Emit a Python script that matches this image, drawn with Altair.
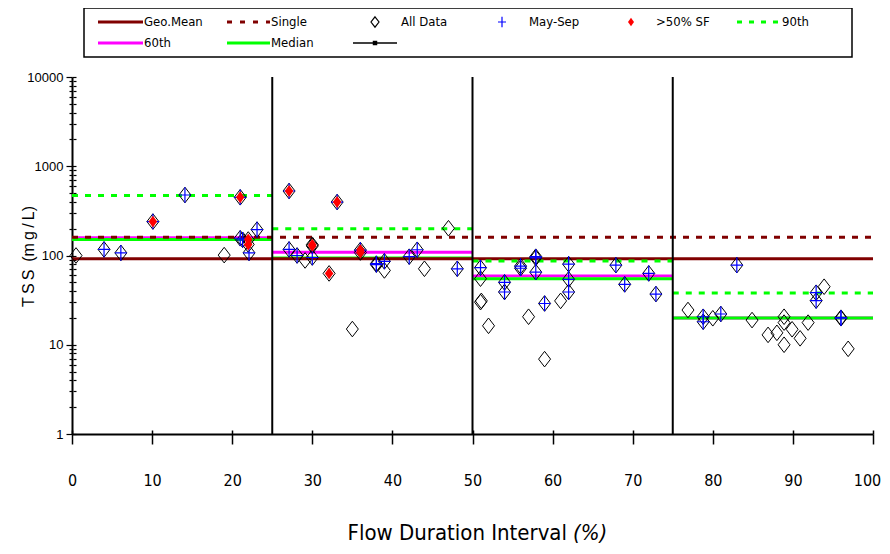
import altair as alt
import pandas as pd

# ---------------- data ----------------
# All Data (open diamonds)
all_x = [0.5, 4.0, 6.1, 10.1, 14.1, 19.0, 21.0, 21.0, 21.3, 22.0, 22.0, 22.1, 23.1,
         27.1, 27.1, 28.1, 29.1, 30.0, 30.0, 30.0, 32.1, 33.1, 35.0, 36.0, 36.0, 38.0,
         38.0, 39.0, 39.0, 42.1, 43.1, 44.0, 47.0, 48.1,
         51.0, 51.0, 51.0, 51.1, 52.0, 54.0, 54.0, 56.0, 56.0, 57.0, 57.9, 57.9, 57.9,
         59.0, 59.0, 61.0, 62.0, 62.0, 62.0, 67.9, 69.0, 72.0, 72.9,
         76.9, 78.8, 78.8, 80.0, 81.0, 83.0, 84.9, 86.9, 88.0, 88.9, 88.9, 88.9, 89.9,
         90.9, 91.9, 92.9, 92.9, 93.9, 96.0, 96.0, 96.9]
all_y = [100, 117, 107, 240, 476, 101, 449, 156, 150, 151, 133, 107, 195,
         528, 117, 100, 88, 128, 132, 95, 63, 397, 15, 115, 108, 81,
         79, 86, 68, 97, 116, 71, 202, 71,
         73, 55, 30, 31, 16.3, 50, 39, 76, 72, 20.6, 94, 97, 65,
         29, 6.9, 31, 80, 54, 39, 78, 47.5, 63, 37,
         24.5, 20.6, 18.1, 19.8, 22.1, 78, 18.9, 12.9, 13.6, 20.6, 17.7, 10.0, 14.9,
         11.8, 17.7, 38.3, 31.2, 44.7, 20.1, 19.8, 9.0]

# May-Sep (blue plus)
may_x = [4.0, 6.1, 10.1, 14.1, 21.0, 21.0, 21.3, 22.1, 23.1,
         27.1, 27.1, 28.1, 30.0, 33.1, 36.0, 38.0, 38.0, 39.0, 42.1, 43.1, 48.1,
         51.0, 54.0, 54.0, 56.0, 56.0, 57.9, 57.9, 57.9, 59.0, 62.0, 62.0, 62.0, 67.9,
         69.0, 72.0, 72.9,
         78.8, 78.8, 81.0, 83.0, 92.9, 92.9, 96.0, 96.0]
may_y = [117, 107, 240, 476, 449, 156, 150, 107, 195,
         528, 117, 100, 95, 397, 115, 81, 79, 86, 97, 116, 71,
         73, 50, 39, 76, 72, 94, 97, 65, 29, 80, 54, 39, 78,
         47.5, 63, 37,
         20.6, 18.1, 22.1, 78, 38.3, 31.2, 20.1, 19.8]

# >50% SF (red diamonds)
sf_x = [10.1, 21.0, 22.0, 22.0, 27.1, 30.0, 30.0, 32.1, 33.1, 36.0, 36.0]
sf_y = [240, 449, 151, 133, 528, 128, 132, 63, 397, 115, 108]

# Flow-zone statistics
zone_start = [0, 25, 50, 75]
zone_end = [25, 50, 75, 100]
p90 = [470, 199, 87, 38]
p60 = [158, 109, 59, 20]
median = [151, 94, 55, 20]
geo_mean = 92
single = 160
dividers = [25, 50, 75]

x_ticks = list(range(0, 101, 10))
y_decades = [1, 10, 100, 1000, 10000]
y_minor = [m * 10 ** e for e in range(4) for m in range(1, 10)] + [10000]

legend_labels = ["Geo.Mean", "Single", "All Data", "May-Sep", ">50% SF", "90th", "60th", "Median"]

# ---------------- styling ----------------
NARROW = "DejaVu Sans Condensed, Liberation Sans Narrow, Liberation Sans, sans-serif"
ARIAL = "Liberation Sans, Arial, sans-serif"
DARKRED = "#800000"
GREEN = "#00FF00"
MAGENTA = "#FF00FF"
DIAMOND = "M0,-1.3L1,0L0,1.3L-1,0Z"
PLUS = "M-1,0L1,0M0,-1.3L0,1.3"
RED_DIAMOND = "M0,-1.4L1,0L0,1.4L-1,0Z"
W, H = 801, 357

XS = alt.Scale(domain=[0, 100], nice=False, zero=False)
YS = alt.Scale(type="log", domain=[1, 10000], nice=False)
DEC = "indexof([1,10,100,1000,10000], datum.value) >= 0"

x_main_axis = alt.Axis(values=x_ticks, format="d", orient="bottom", title=None, grid=False,
                       domainColor="black", domainWidth=2, tickColor="black",
                       tickWidth=1.5, tickSize=10, labelFont=NARROW, labelFontSize=16,
                       labelColor="black", labelPadding=28, labelFlush=False,
                       labelOverlap=False,
                       labelOffset={"condition": {"test": "datum.value == 100", "value": -6},
                                    "value": 0})
x_inner_axis = alt.Axis(values=x_ticks, orient="bottom", offset=-4, tickSize=4,
                        domain=False, labels=False, title=None, grid=False,
                        tickColor="black", tickWidth=1.5)
y_main_axis = alt.Axis(values=y_minor, format="d", labelExpr=f"{DEC} ? datum.label : ''",
                       orient="left", grid=False, domainColor="black", domainWidth=2,
                       tickColor="black", tickWidth=1.2,
                       tickSize={"condition": {"test": DEC, "value": 6}, "value": 3},
                       labelFont=ARIAL, labelFontSize=13, labelColor="black",
                       labelPadding=3, labelOverlap=False,
                       title="T\u2009S\u2009S\u2009 (m\u2009g\u2009/\u2009L)",
                       titleFont=ARIAL, titleFontSize=16, titleFontWeight="normal",
                       titleColor="black", titleX=-44, titleY=179, titleAngle=-90,
                       titleBaseline="middle", titleAlign="center")
y_inner_axis = alt.Axis(values=y_minor, orient="left", offset=-4, grid=False,
                        domain=False, labels=False, title=None, tickColor="black",
                        tickWidth=1.2,
                        tickSize={"condition": {"test": DEC, "value": 4}, "value": 3})

zones = pd.DataFrame({"x0": zone_start, "x1": zone_end, "p90": p90, "p60": p60,
                      "median": median})
full = pd.DataFrame({"x0": [0], "x1": [100], "geo": [geo_mean], "single": [single]})


def zone_rule(df, field, color, dash=None, width=3):
    kw = dict(color=color, strokeWidth=width)
    if dash:
        kw["strokeDash"] = dash
    return alt.Chart(df).mark_rule(**kw).encode(
        x=alt.X("x0:Q", scale=XS, axis=None),
        x2="x1:Q",
        y=alt.Y(f"{field}:Q", scale=YS, axis=None),
    )


lines = [
    zone_rule(zones, "p60", MAGENTA),
    zone_rule(zones, "median", GREEN),
    zone_rule(full, "geo", DARKRED),
    zone_rule(full, "single", DARKRED, dash=[6, 7]),
    zone_rule(zones, "p90", GREEN, dash=[6, 7]),
]

div_df = pd.DataFrame({"x": dividers, "y0": [1] * 3, "y1": [10000] * 3})
div_layer = alt.Chart(div_df).mark_rule(color="black", strokeWidth=2).encode(
    x=alt.X("x:Q", scale=XS, axis=x_inner_axis),
    y=alt.Y("y0:Q", scale=YS, axis=y_inner_axis),
    y2="y1:Q",
)

all_df = pd.DataFrame({"x": all_x, "y": all_y})
may_df = pd.DataFrame({"x": may_x, "y": may_y})
sf_df = pd.DataFrame({"x": sf_x, "y": sf_y})

all_layer = alt.Chart(all_df).mark_point(
    shape=DIAMOND, filled=False, color="black", size=144, strokeWidth=1, opacity=1
).encode(x=alt.X("x:Q", scale=XS, axis=x_main_axis),
         y=alt.Y("y:Q", scale=YS, axis=y_main_axis))
may_layer = alt.Chart(may_df).mark_point(
    shape=PLUS, filled=False, color="blue", size=144, strokeWidth=1.2, opacity=1
).encode(x=alt.X("x:Q", scale=XS, axis=None), y=alt.Y("y:Q", scale=YS, axis=None))
sf_layer = alt.Chart(sf_df).mark_point(
    shape=RED_DIAMOND, filled=True, color="red", size=72, opacity=1, strokeWidth=0
).encode(x=alt.X("x:Q", scale=XS, axis=None), y=alt.Y("y:Q", scale=YS, axis=None))

# ---------------- legend / decoration overlay (page-pixel layout scale) ----------------
LX = alt.Scale(domain=[72, 873], nice=False, zero=False)
LY = alt.Scale(domain=[77, 434], nice=False, zero=False, reverse=True)


def ox(f):
    return alt.X(f, scale=LX, axis=None)


def oy(f):
    return alt.Y(f, scale=LY, axis=None)


box = alt.Chart(pd.DataFrame({"a": [84], "b": [852], "c": [8], "d": [57]})).mark_rect(
    fillOpacity=0, stroke="black", strokeWidth=1.5
).encode(x=ox("a:Q"), x2="b:Q", y=oy("c:Q"), y2="d:Q")


def leg_line(x0, x1, y, color, dash=None, width=3):
    kw = dict(color=color, strokeWidth=width)
    if dash:
        kw["strokeDash"] = dash
    return alt.Chart(pd.DataFrame({"a": [x0], "b": [x1], "y": [y]})).mark_rule(**kw).encode(
        x=ox("a:Q"), x2="b:Q", y=oy("y:Q"))


R1, R2 = 22, 43
leg_lines = [
    leg_line(98, 143, R1, DARKRED),
    leg_line(227, 270, R1, DARKRED, dash=[5, 8]),
    leg_line(737, 781, R1, GREEN, dash=[5, 7]),
    leg_line(98, 143, R2, MAGENTA),
    leg_line(227, 270, R2, GREEN),
    leg_line(353, 397, R2, "black", width=1.5),
]


def leg_sym(x, y, **mk):
    return alt.Chart(pd.DataFrame({"x": [x], "y": [y]})).mark_point(**mk).encode(
        x=ox("x:Q"), y=oy("y:Q"))


leg_syms = [
    leg_sym(375, R1, shape=DIAMOND, filled=False, color="black", size=64, strokeWidth=1.2, opacity=1),
    leg_sym(502, R1, shape=PLUS, filled=False, color="blue", size=64, strokeWidth=1.2, opacity=1),
    leg_sym(631, R1, shape=RED_DIAMOND, filled=True, color="red", size=36, opacity=1),
    leg_sym(375, R2, shape="square", filled=True, color="black", size=20, opacity=1),
]

text_df = pd.DataFrame({
    "t": legend_labels,
    "x": [144, 271, 401, 529, 656, 782, 144, 271],
    "y": [R1, R1, R1, R1, R1, R1, R2, R2],
})
leg_text = alt.Chart(text_df).mark_text(
    align="left", baseline="middle", font=NARROW, fontSize=13, color="black"
).encode(x=ox("x:Q"), y=oy("y:Q"), text="t:N")

xt1 = alt.Chart(pd.DataFrame({"x": [567], "y": [533], "t": ["Flow Duration Interval"]})).mark_text(
    align="right", baseline="middle", font=NARROW, fontSize=22, color="black"
).encode(x=ox("x:Q"), y=oy("y:Q"), text="t:N")
xt2 = alt.Chart(pd.DataFrame({"x": [573], "y": [533], "t": ["(%)"]})).mark_text(
    align="left", baseline="middle", font=NARROW, fontSize=22, fontStyle="italic", color="black"
).encode(x=ox("x:Q"), y=oy("y:Q"), text="t:N")

chart = alt.layer(
    *lines, div_layer, all_layer, may_layer, sf_layer,
    box, *leg_lines, *leg_syms, leg_text, xt1, xt2
).resolve_scale(
    x="independent", y="independent"
).resolve_axis(
    x="independent", y="independent"
).properties(
    width=W, height=H,
    autosize=alt.AutoSizeParams(type="none"),
    padding={"left": 64, "top": 69, "right": 9, "bottom": 112},
    background="white",
).configure_view(stroke=None)

chart.save("out.html", embed_options={"renderer": "svg", "actions": False})
